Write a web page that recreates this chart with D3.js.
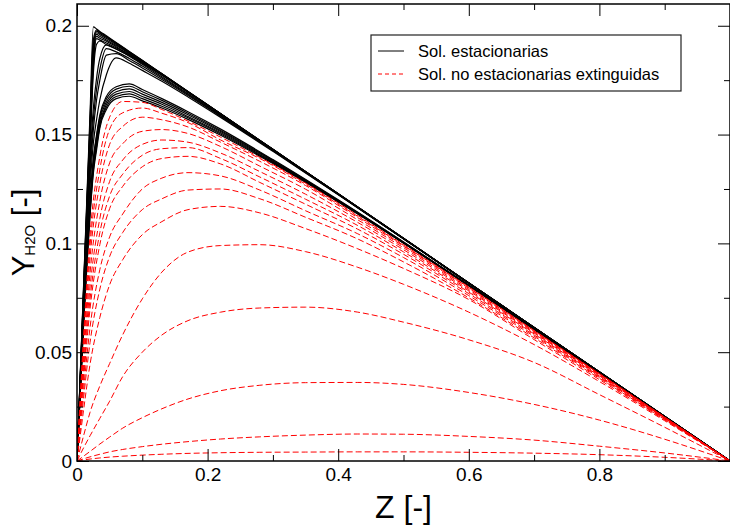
<!DOCTYPE html>
<html>
<head>
<meta charset="utf-8">
<script src="https://cdn.jsdelivr.net/npm/d3@7"></script>
<style>
	body { margin: 0; background: #fff; }
	svg { display: block; font-family: "Liberation Sans", Arial, sans-serif; }
</style>
</head>
<body>
<div id="chart"></div>
<script>
// Z grid of the steady solutions
var blackZ = [0, 0.01, 0.02, 0.025, 0.03, 0.035, 0.045, 0.06, 0.08, 0.1, 0.13, 0.17, 0.22, 0.3, 0.4, 0.6, 0.8, 1.0];

// Y_H2O of the steady solutions (Sol. estacionarias)
var blackCurves = [
	[0, 0.080, 0.160, 0.1995, 0.1985, 0.1974, 0.1954, 0.1923, 0.1882, 0.1841, 0.1780, 0.1698, 0.1596, 0.1432, 0.1228, 0.0818, 0.0409, 0],
	[0, 0.079, 0.157, 0.1935, 0.1981, 0.1970, 0.1951, 0.1921, 0.1881, 0.1840, 0.1779, 0.1698, 0.1596, 0.1432, 0.1228, 0.0818, 0.0409, 0],
	[0, 0.078, 0.155, 0.1910, 0.1975, 0.1965, 0.1947, 0.1918, 0.1878, 0.1839, 0.1779, 0.1697, 0.1596, 0.1432, 0.1228, 0.0818, 0.0409, 0],
	[0, 0.077, 0.153, 0.1885, 0.1968, 0.1959, 0.1941, 0.1914, 0.1876, 0.1837, 0.1778, 0.1697, 0.1596, 0.1431, 0.1228, 0.0818, 0.0409, 0],
	[0, 0.076, 0.151, 0.1860, 0.1960, 0.1951, 0.1935, 0.1909, 0.1873, 0.1835, 0.1777, 0.1696, 0.1595, 0.1431, 0.1227, 0.0818, 0.0409, 0],
	[0, 0.075, 0.149, 0.1835, 0.1951, 0.1943, 0.1929, 0.1904, 0.1869, 0.1833, 0.1775, 0.1696, 0.1595, 0.1431, 0.1227, 0.0818, 0.0409, 0],
	[0, 0.074, 0.147, 0.1810, 0.1941, 0.1934, 0.1921, 0.1899, 0.1866, 0.1830, 0.1774, 0.1695, 0.1595, 0.1431, 0.1227, 0.0818, 0.0409, 0],
	[0, 0.073, 0.145, 0.1780, 0.1915, 0.1930, 0.1913, 0.1893, 0.1862, 0.1827, 0.1773, 0.1695, 0.1595, 0.1430, 0.1227, 0.0818, 0.0409, 0],
	[0, 0.072, 0.139, 0.162, 0.176, 0.1850, 0.1912, 0.1893, 0.1860, 0.1823, 0.1766, 0.1688, 0.1589, 0.1429, 0.1227, 0.0817, 0.0409, 0],
	[0, 0.070, 0.135, 0.157, 0.171, 0.1800, 0.1895, 0.1880, 0.1850, 0.1815, 0.1760, 0.1684, 0.1586, 0.1428, 0.1226, 0.0817, 0.0409, 0],
	[0, 0.068, 0.131, 0.152, 0.166, 0.1750, 0.1865, 0.1872, 0.1840, 0.1806, 0.1753, 0.1680, 0.1584, 0.1426, 0.1225, 0.0817, 0.0409, 0],
	[0, 0.066, 0.126, 0.146, 0.157, 0.1660, 0.1775, 0.1852, 0.1828, 0.1795, 0.1745, 0.1673, 0.1579, 0.1423, 0.1224, 0.0817, 0.0409, 0],
	[0, 0.066, 0.120, 0.139, 0.150, 0.1590, 0.1675, 0.1720, 0.1733, 0.1707, 0.1665, 0.1605, 0.1525, 0.1385, 0.1200, 0.0808, 0.0406, 0],
	[0, 0.065, 0.119, 0.138, 0.149, 0.1580, 0.1663, 0.1709, 0.1722, 0.1697, 0.1657, 0.1598, 0.1519, 0.1382, 0.1198, 0.0808, 0.0405, 0],
	[0, 0.064, 0.117, 0.136, 0.147, 0.1565, 0.1650, 0.1697, 0.1710, 0.1686, 0.1648, 0.1591, 0.1514, 0.1378, 0.1196, 0.0807, 0.0405, 0],
	[0, 0.064, 0.116, 0.135, 0.146, 0.1550, 0.1638, 0.1686, 0.1698, 0.1675, 0.1639, 0.1583, 0.1508, 0.1374, 0.1194, 0.0806, 0.0405, 0],
	[0, 0.063, 0.114, 0.1335, 0.1445, 0.1540, 0.1626, 0.1675, 0.1687, 0.1665, 0.1630, 0.1577, 0.1503, 0.1371, 0.1192, 0.0805, 0.0405, 0],
	[0, 0.062, 0.113, 0.132, 0.143, 0.1530, 0.1615, 0.1665, 0.1676, 0.1655, 0.1622, 0.1570, 0.1497, 0.1367, 0.1190, 0.0805, 0.0404, 0]
];

// Z grid of the extinguished unsteady solutions
var redZ = [0, 0.01, 0.02, 0.035, 0.05, 0.07, 0.1, 0.13, 0.17, 0.22, 0.28, 0.35, 0.43, 0.5, 0.6, 0.7, 0.8, 0.9, 1.0];

// Y_H2O of the extinguished solutions (Sol. no estacionarias extinguidas)
var redCurves = [
	[0, 0.0570, 0.1040, 0.1400, 0.1580, 0.1652, 0.1648, 0.1615, 0.1562, 0.1488, 0.1395, 0.1277, 0.1128, 0.0994, 0.0800, 0.0600, 0.0402, 0.0202, 0],
	[0, 0.0540, 0.0990, 0.1340, 0.1525, 0.1600, 0.1622, 0.1598, 0.1555, 0.1475, 0.1390, 0.1272, 0.1124, 0.0991, 0.0797, 0.0598, 0.0401, 0.0201, 0],
	[0, 0.0505, 0.0935, 0.1275, 0.1455, 0.1537, 0.1580, 0.1568, 0.1535, 0.1465, 0.1377, 0.1266, 0.1118, 0.0987, 0.0794, 0.0596, 0.0399, 0.0200, 0],
	[0, 0.0465, 0.0865, 0.1195, 0.1370, 0.1458, 0.1515, 0.1523, 0.1505, 0.1445, 0.1355, 0.1249, 0.1108, 0.0980, 0.0788, 0.0592, 0.0397, 0.0199, 0],
	[0, 0.0430, 0.0800, 0.1115, 0.1285, 0.1383, 0.1455, 0.1475, 0.1465, 0.1415, 0.1330, 0.1226, 0.1096, 0.0971, 0.0782, 0.0588, 0.0394, 0.0198, 0],
	[0, 0.0400, 0.0745, 0.1050, 0.1218, 0.1318, 0.1405, 0.1435, 0.1440, 0.1390, 0.1305, 0.1203, 0.1082, 0.0961, 0.0776, 0.0584, 0.0391, 0.0197, 0],
	[0, 0.0372, 0.0700, 0.0995, 0.1160, 0.1262, 0.1352, 0.1390, 0.1400, 0.1365, 0.1280, 0.1180, 0.1065, 0.0950, 0.0769, 0.0579, 0.0388, 0.0195, 0],
	[0, 0.0325, 0.0615, 0.0880, 0.1030, 0.1135, 0.1250, 0.1300, 0.1325, 0.1310, 0.1245, 0.1150, 0.1044, 0.0935, 0.0760, 0.0573, 0.0384, 0.0193, 0],
	[0, 0.0287, 0.0545, 0.0790, 0.0940, 0.1050, 0.1155, 0.1205, 0.1245, 0.1250, 0.1205, 0.1120, 0.1020, 0.0915, 0.0750, 0.0566, 0.0380, 0.0191, 0],
	[0, 0.0232, 0.0445, 0.0660, 0.0810, 0.0925, 0.1040, 0.1100, 0.1155, 0.1170, 0.1140, 0.1068, 0.0975, 0.0885, 0.0742, 0.0558, 0.0374, 0.0189, 0],
	[0, 0.0115, 0.0224, 0.0345, 0.0448, 0.0580, 0.0745, 0.0868, 0.0960, 0.0990, 0.0994, 0.0962, 0.0890, 0.0812, 0.0684, 0.0535, 0.0365, 0.0185, 0],
	[0, 0.0060, 0.0116, 0.0196, 0.0275, 0.0388, 0.0500, 0.0579, 0.0645, 0.0684, 0.0703, 0.0707, 0.0684, 0.0638, 0.0557, 0.0453, 0.0305, 0.0155, 0],
	[0, 0.0022, 0.0044, 0.0078, 0.0110, 0.0151, 0.0199, 0.0240, 0.0285, 0.0323, 0.0348, 0.0360, 0.0361, 0.0352, 0.0315, 0.0260, 0.0188, 0.0100, 0],
	[0, 0.0010, 0.0019, 0.0031, 0.0042, 0.0053, 0.0066, 0.0077, 0.0089, 0.0101, 0.0111, 0.0119, 0.0124, 0.0123, 0.0113, 0.0096, 0.0068, 0.0037, 0],
	[0, 0.0005, 0.0009, 0.0014, 0.0018, 0.0022, 0.0027, 0.0031, 0.0035, 0.0038, 0.0040, 0.0041, 0.0042, 0.0042, 0.0040, 0.0036, 0.0029, 0.0017, 0]
];

// ticks and labels
var xMajor = [0, 0.2, 0.4, 0.6, 0.8];
var xMinor = [0.1, 0.3, 0.5, 0.7, 0.9];
var xTickLabels = ["0", "0.2", "0.4", "0.6", "0.8"];
var yMajor = [0, 0.05, 0.1, 0.15, 0.2];
var yMinor = [0.025, 0.075, 0.125, 0.175];
var yTickLabels = ["0", "0.05", "0.1", "0.15", "0.2"];
var legendLabels = ["Sol. estacionarias", "Sol. no estacionarias extinguidas"];

var width = 730, height = 526;
var margin = {top: 4, right: 0, bottom: 65, left: 77};
var innerW = width - margin.left - margin.right;
var innerH = height - margin.top - margin.bottom;

var svg = d3.select('#chart').append('svg')
	.attr('width', width)
	.attr('height', height);

var x = d3.scaleLinear().domain([0, 1]).range([margin.left, margin.left + innerW]);
var y = d3.scaleLinear().domain([0, 0.21]).range([margin.top + innerH, margin.top]);

svg.append('clipPath').attr('id', 'plotclip')
	.append('rect')
	.attr('x', margin.left).attr('y', margin.top)
	.attr('width', innerW).attr('height', innerH);

function lineFor(zs) {
	return d3.line()
		.x(function(d, i) { return x(zs[i]); })
		.y(function(d) { return y(d); })
		.curve(d3.curveMonotoneX);
}

var plot = svg.append('g').attr('clip-path', 'url(#plotclip)');

// black first, red dashed drawn over it
plot.append('g').attr('class', 'steady')
	.selectAll('path')
	.data(blackCurves)
	.enter().append('path')
	.attr('d', lineFor(blackZ))
	.attr('fill', 'none')
	.attr('stroke', '#000')
	.attr('stroke-width', 1.2);

plot.append('g').attr('class', 'extinct')
	.selectAll('path')
	.data(redCurves)
	.enter().append('path')
	.attr('d', lineFor(redZ))
	.attr('fill', 'none')
	.attr('stroke', '#ff0000')
	.attr('stroke-width', 1)
	.attr('stroke-dasharray', '6,3');

// axes, ticks pointing inward on all four sides
function styleAxis(g) {
	g.select('.domain').remove();
	g.selectAll('line').attr('stroke', '#000');
	g.selectAll('text').attr('fill', '#000');
}

var axBottom = svg.append('g').attr('transform', 'translate(0,' + (margin.top + innerH) + ')');
axBottom.append('g').call(d3.axisBottom(x).tickValues(xMajor).tickSizeInner(-12).tickSizeOuter(0).tickPadding(7)
	.tickFormat(function(d, i) { return xTickLabels[i]; }))
	.attr('font-size', 19).attr('font-family', null).call(styleAxis);
axBottom.append('g').call(d3.axisBottom(x).tickValues(xMinor).tickSizeInner(-6).tickSizeOuter(0).tickFormat(''))
	.call(styleAxis);

var axTop = svg.append('g').attr('transform', 'translate(0,' + margin.top + ')');
axTop.append('g').call(d3.axisTop(x).tickValues(xMajor).tickSizeInner(-12).tickSizeOuter(0).tickFormat('')).call(styleAxis);
axTop.append('g').call(d3.axisTop(x).tickValues(xMinor).tickSizeInner(-6).tickSizeOuter(0).tickFormat('')).call(styleAxis);

var axLeft = svg.append('g').attr('transform', 'translate(' + margin.left + ',0)');
axLeft.append('g').call(d3.axisLeft(y).tickValues(yMajor).tickSizeInner(-12).tickSizeOuter(0).tickPadding(5)
	.tickFormat(function(d, i) { return yTickLabels[i]; }))
	.attr('font-size', 19).attr('font-family', null).call(styleAxis);
axLeft.append('g').call(d3.axisLeft(y).tickValues(yMinor).tickSizeInner(-6).tickSizeOuter(0).tickFormat('')).call(styleAxis);

var axRight = svg.append('g').attr('transform', 'translate(' + (margin.left + innerW) + ',0)');
axRight.append('g').call(d3.axisRight(y).tickValues(yMajor).tickSizeInner(-12).tickSizeOuter(0).tickFormat('')).call(styleAxis);
axRight.append('g').call(d3.axisRight(y).tickValues(yMinor).tickSizeInner(-6).tickSizeOuter(0).tickFormat('')).call(styleAxis);

// frame
svg.append('rect')
	.attr('x', margin.left).attr('y', margin.top)
	.attr('width', innerW).attr('height', innerH)
	.attr('fill', 'none')
	.attr('stroke', '#000')
	.attr('stroke-width', 1.5);

// axis titles
svg.append('text')
	.attr('x', x(0.5)).attr('y', 518)
	.attr('text-anchor', 'middle')
	.attr('font-size', 32)
	.text('Z [-]');

var yt = svg.append('text')
	.attr('transform', 'translate(34,' + y(0.105) + ') rotate(-90)')
	.attr('text-anchor', 'middle')
	.attr('font-size', 31);
yt.append('tspan').text('Y');
yt.append('tspan').attr('font-size', 15).attr('dy', 1).text('H2O');
yt.append('tspan').attr('dy', -1).text(' [-]');

// legend
var lg = svg.append('g').attr('class', 'legend').attr('transform', 'translate(371,35)');
lg.append('rect')
	.attr('width', 310).attr('height', 56)
	.attr('fill', '#fff')
	.attr('stroke', '#222')
	.attr('stroke-width', 1.2);
var rows = lg.selectAll('g.row')
	.data(legendLabels)
	.enter().append('g')
	.attr('class', 'row')
	.attr('transform', function(d, i) { return 'translate(0,' + (16 + i * 23) + ')'; });
rows.append('line')
	.attr('x1', 7).attr('x2', 33)
	.attr('stroke', function(d, i) { return i === 0 ? '#000' : '#ff0000'; })
	.attr('stroke-width', 1)
	.attr('stroke-dasharray', function(d, i) { return i === 0 ? null : '4,3'; });
rows.append('text')
	.attr('x', 47).attr('dy', '0.35em')
	.attr('font-size', 16.5)
	.text(function(d) { return d; });
</script>
</body>
</html>
